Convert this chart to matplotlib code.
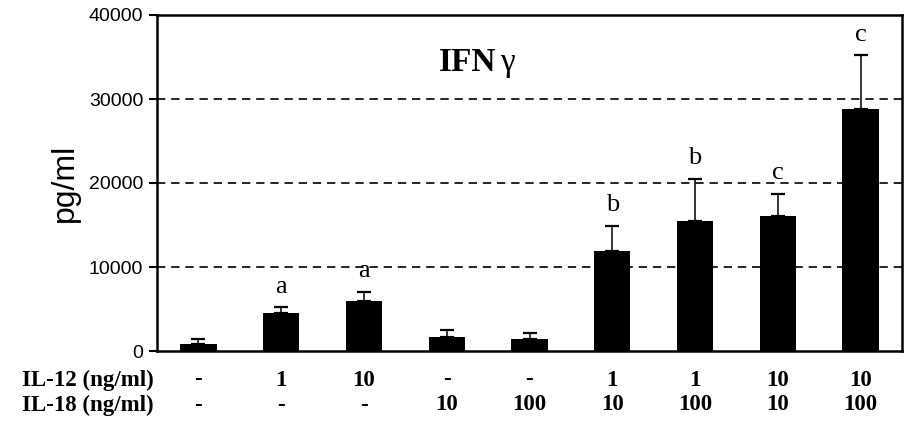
import matplotlib
matplotlib.use("Agg")
import matplotlib.pyplot as plt
import matplotlib.transforms as mtrans
import numpy as np

# values (pg/ml)
means = [880, 4490, 5980, 1690, 1450, 11920, 15510, 16070, 28850]
err_top = [1410, 5180, 7030, 2490, 2130, 14870, 20490, 18700, 35190]
letters = ["", "a", "a", "", "", "b", "b", "c", "c"]
il12 = ["-", "1", "10", "-", "-", "1", "1", "10", "10"]
il18 = ["-", "-", "-", "10", "100", "10", "100", "10", "100"]
yticks = [0, 10000, 20000, 30000, 40000]

serif = "Liberation Serif"
sans = "Liberation Sans"

fig = plt.figure(figsize=(9.11, 4.21), dpi=100)
ax = fig.add_axes([157 / 911, 1 - 351 / 421, (902 - 157) / 911, (351 - 15) / 421])

x = np.arange(len(means))
errs = np.array(err_top) - np.array(means)
ax.bar(x, means, width=0.44, color="black", zorder=3)
ax.errorbar(x, means, yerr=[np.zeros(len(errs)), errs], fmt="none",
            ecolor="black", elinewidth=1.1, capsize=5, capthick=1.6, zorder=2)

for xi, top, lab in zip(x, err_top, letters):
    if lab:
        ax.annotate(lab, (xi, top), xytext=(0, 7), textcoords="offset points",
                    ha="center", va="bottom", fontsize=19, family=serif)

for yv in yticks[1:-1]:
    ax.axhline(yv, color="black", lw=1.2, ls=(0, (5, 3.5)), zorder=1)

ax.set_xlim(-0.5, len(means) - 0.5)
ax.set_ylim(0, 40000)
ax.set_yticks(yticks)
ax.set_yticklabels([str(v) for v in yticks], family=sans, fontsize=14)
ax.set_xticks([])
ax.tick_params(axis="y", direction="out", length=6, width=1.5, pad=4)
for sp in ax.spines.values():
    sp.set_linewidth(1.8)
ax.set_ylabel("pg/ml", family=sans, fontsize=23, labelpad=6)

# title: bold IFN plus regular gamma
fig.text(496 / 911, 1 - 71 / 421, "IFN", family=serif, fontweight="bold",
         fontsize=24, ha="right", va="baseline")
fig.text(500 / 911, 1 - 71 / 421, "\u03b3", family=serif,
         fontsize=24, ha="left", va="baseline")

# treatment table under the bars
tr = mtrans.blended_transform_factory(ax.transData, fig.transFigure)
for row, vals, ypix in [("IL-12 (ng/ml)", il12, 380), ("IL-18 (ng/ml)", il18, 405)]:
    yf = 1 - ypix / 421
    fig.text(22 / 911, yf, row, family=serif, fontweight="bold", fontsize=16.5,
             ha="left", va="center")
    for xi, v in zip(x, vals):
        ax.text(xi, yf, v, transform=tr, ha="center", va="center",
                family=serif, fontweight="bold", fontsize=16.5)

fig.savefig("out.png", dpi=100)
